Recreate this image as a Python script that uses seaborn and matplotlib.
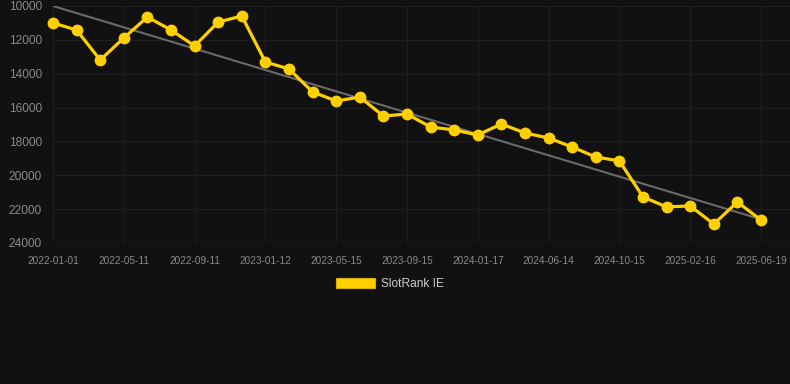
import pandas as pd
import numpy as np
import matplotlib.pyplot as plt
import seaborn as sns
from matplotlib.patches import Patch

dates = [
    "2022-01-01", "2022-02-13", "2022-03-28", "2022-05-11", "2022-06-21",
    "2022-08-01", "2022-09-11", "2022-10-22", "2022-12-02", "2023-01-12",
    "2023-02-23", "2023-04-04", "2023-05-15", "2023-06-25", "2023-08-05",
    "2023-09-15", "2023-10-26", "2023-12-06", "2024-01-17", "2024-03-05",
    "2024-04-24", "2024-06-14", "2024-07-25", "2024-09-04", "2024-10-15",
    "2024-11-25", "2025-01-05", "2025-02-16", "2025-03-29", "2025-05-09",
    "2025-06-19",
]
rank = [
    11000, 11420, 13190, 11890, 10650, 11420, 12360, 10950, 10590, 13310,
    13720, 15080, 15610, 15380, 16500, 16380, 17150, 17320, 17620, 16970,
    17500, 17800, 18330, 18920, 19150, 21280, 21870, 21810, 22880, 21580,
    22640,
]
trend_start = 10000
trend_end = 22600
y_ticks = [10000, 12000, 14000, 16000, 18000, 20000, 22000, 24000]

bg = "#111111"
yellow = "#FFD000"
grid_col = "#1e1e1e"

sns.set_theme(style="dark", rc={
    "figure.facecolor": bg,
    "axes.facecolor": bg,
    "axes.edgecolor": bg,
    "grid.color": grid_col,
    "axes.grid": True,
})
plt.rcParams["font.family"] = ["Liberation Sans", "DejaVu Sans"]

df = pd.DataFrame({"pos": range(len(dates)), "date": dates, "rank": rank})

fig = plt.figure(figsize=(7.9, 3.84), dpi=100)
ax = fig.add_axes([53 / 790, 1 - 243 / 384, 1 - 53 / 790, (243 - 6) / 384])

ax.plot([0, len(dates) - 1], [trend_start, trend_end], color="#6a6a6a", lw=1.5, zorder=2)
sns.lineplot(data=df, x="pos", y="rank", ax=ax, color=yellow, lw=2.3,
             marker="o", markersize=8.5, markeredgewidth=0, zorder=3, clip_on=False)

ax.set_ylim(24000, 10000)
ax.set_yticks(y_ticks)
ax.set_xlim(0, 31.23)
tick_pos = list(range(0, len(dates), 3))
ax.set_xticks(tick_pos)
ax.set_xticklabels([dates[i] for i in tick_pos])
ax.tick_params(axis="x", labelsize=7.2, colors="#8a8a8a", pad=9, length=0)
ax.tick_params(axis="y", labelsize=8.6, colors="#8a8a8a", pad=8, length=0)
ax.grid(True, color=grid_col, lw=0.8)
ax.set_xlabel("")
ax.set_ylabel("")
for s in ax.spines.values():
    s.set_visible(False)
ax.axhline(24000, color="#2a2a2a", lw=1, zorder=1)

handle = Patch(facecolor=yellow, edgecolor="#d9b000", lw=0.8)
fig.legend([handle], ["SlotRank IE"], loc="center", bbox_to_anchor=(390 / 790, 1 - 284 / 384),
           frameon=False, fontsize=8.6, labelcolor="#cccccc",
           handlelength=3.3, handleheight=1.0, handletextpad=0.5)

fig.savefig("out.png", dpi=100, facecolor=bg)
